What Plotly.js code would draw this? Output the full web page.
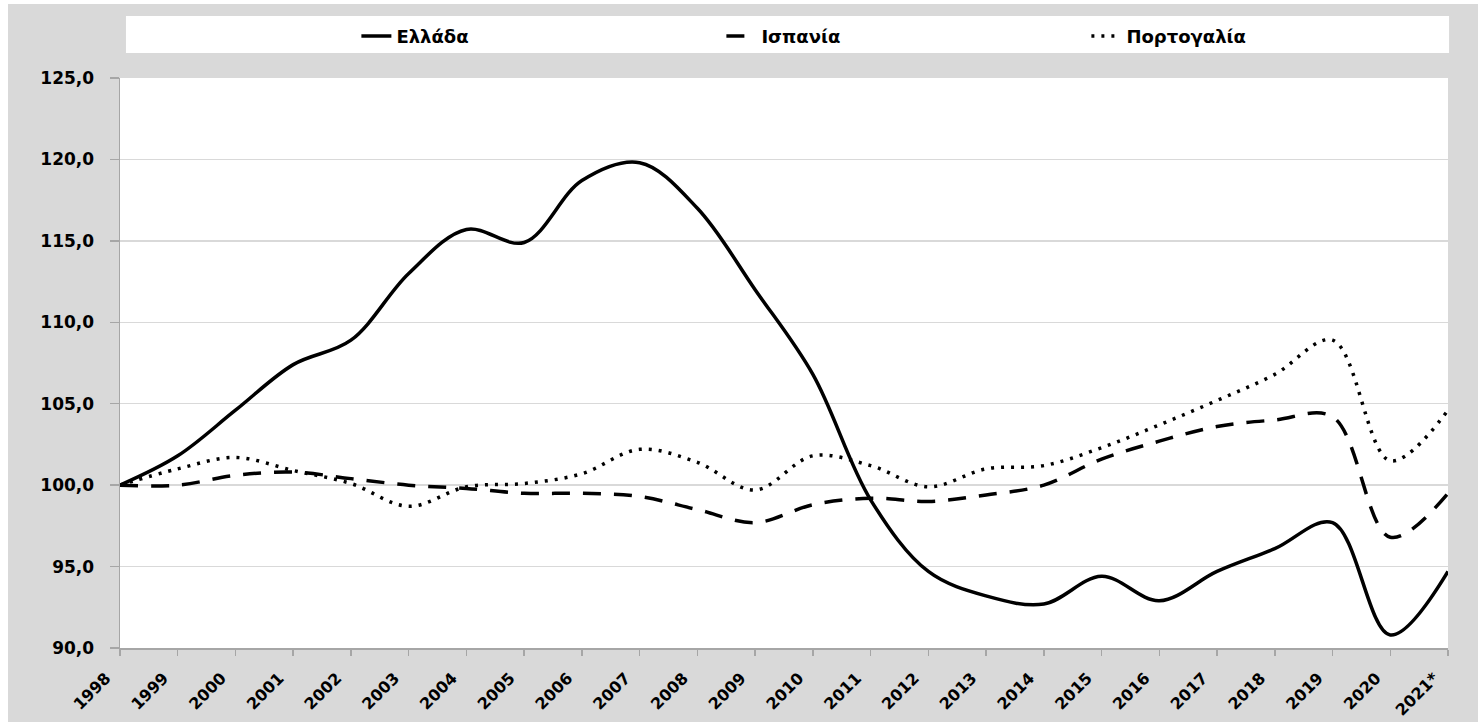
<!DOCTYPE html>
<html>
<head>
<meta charset="utf-8">
<script src="https://cdn.plot.ly/plotly-3.0.1.min.js"></script>
<style>
  html, body { margin: 0; padding: 0; background: #ffffff; }
  #chart { position: absolute; left: 8px; top: 4px; width: 1470px; height: 718px; }
</style>
</head>
<body>
<div id="chart"></div>
<script>
const years = ["1998","1999","2000","2001","2002","2003","2004","2005","2006","2007","2008","2009","2010","2011","2012","2013","2014","2015","2016","2017","2018","2019","2020","2021*"];
const greece = [100.0, 101.8, 104.6, 107.4, 108.9, 113.0, 115.7, 114.9, 118.7, 119.8, 117.0, 112.0, 106.8, 99.1, 94.7, 93.2, 92.7, 94.4, 92.9, 94.7, 96.1, 97.7, 90.8, 94.7];
const spain = [100.0, 100.0, 100.6, 100.8, 100.4, 100.0, 99.8, 99.5, 99.5, 99.3, 98.5, 97.7, 98.8, 99.2, 99.0, 99.4, 100.0, 101.6, 102.7, 103.6, 104.0, 104.2, 96.8, 99.5];
const portugal = [100.0, 101.0, 101.7, 100.9, 100.1, 98.7, 99.9, 100.1, 100.7, 102.2, 101.4, 99.7, 101.8, 101.2, 99.9, 101.0, 101.2, 102.3, 103.7, 105.2, 106.8, 108.9, 101.5, 104.6];
const seriesNames = ["Ελλάδα", "Ισπανία", "Πορτογαλία"];

const fontFam = "DejaVu Sans, Verdana, sans-serif";

const traces = [
  {x: years, y: greece, name: seriesNames[0], type: 'scatter', mode: 'lines',
   line: {color: '#000000', width: 3.5, shape: 'spline', smoothing: 1}},
  {x: years, y: spain, name: seriesNames[1], type: 'scatter', mode: 'lines',
   line: {color: '#000000', width: 3.5, shape: 'spline', smoothing: 1, dash: '18px,13px'}},
  {x: years, y: portugal, name: seriesNames[2], type: 'scatter', mode: 'lines',
   line: {color: '#000000', width: 3.5, shape: 'spline', smoothing: 1, dash: '3px,7px'}}
];

const layout = {
  width: 1470, height: 718,
  margin: {l: 112, r: 30, t: 74, b: 74},
  paper_bgcolor: '#d9d9d9',
  plot_bgcolor: '#ffffff',
  separators: ',.',
  font: {family: fontFam, size: 17, color: '#000000', weight: 'bold'},
  showlegend: true,
  legend: {
    orientation: 'h', xref: 'container', x: 0.237, xanchor: 'left',
    yref: 'container', y: 0.955, yanchor: 'middle',
    bgcolor: 'rgba(0,0,0,0)', entrywidth: 320, entrywidthmode: 'pixels',
    font: {family: fontFam, size: 18, color: '#000000', weight: 'bold'}
  },
  xaxis: {
    type: 'category', range: [0, 23],
    tickangle: -45, ticks: 'outside', ticklen: 6, tickcolor: '#a6a6a6', tickwidth: 1.5,
    ticklabelstandoff: 7, ticklabelshift: -14,
    showline: true, linecolor: '#a6a6a6', linewidth: 1.5,
    showgrid: false, zeroline: false,
    tickfont: {family: fontFam, size: 16, color: '#000000', weight: 'bold'}
  },
  yaxis: {
    range: [90, 125], dtick: 5, tick0: 90, tickformat: '.1f',
    ticks: 'outside', ticklen: 9, tickcolor: '#a6a6a6', tickwidth: 1.5,
    ticklabelstandoff: 12,
    showline: true, linecolor: '#a6a6a6', linewidth: 1.5,
    showgrid: true, gridcolor: '#d9d9d9', gridwidth: 1.5, zeroline: false,
    tickfont: {family: fontFam, size: 17, color: '#000000', weight: 'bold'}
  },
  shapes: [
    {type: 'rect', xref: 'paper', yref: 'paper', x0: 0.0045, x1: 1.0008, y0: 1.0439, y1: 1.1088,
     fillcolor: '#ffffff', line: {width: 0}, layer: 'below'}
  ]
};

Plotly.newPlot('chart', traces, layout, {displayModeBar: false, staticPlot: true});
</script>
</body>
</html>
